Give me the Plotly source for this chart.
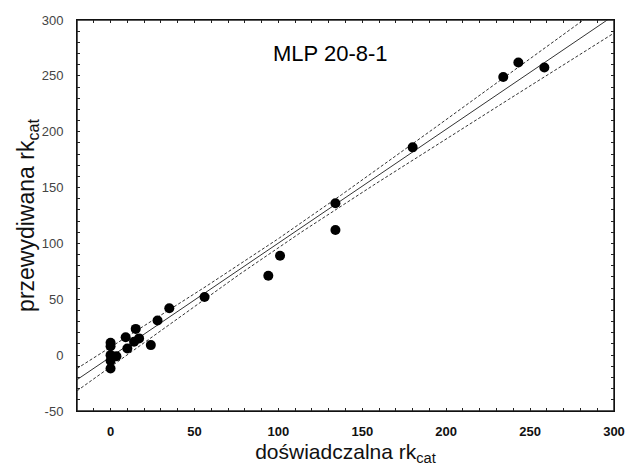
import numpy as np
import plotly.graph_objects as go

x_exp = [0, 0, 0, 0, 0, 3.5, 9, 10, 14, 15, 17, 24, 28, 35, 56,
         94, 101, 134, 134, 180, 234, 243, 258.5]
y_pred = [11, 8, 0, -5, -12, -1, 16, 6, 12, 23.5, 15, 9, 31, 42, 52,
          71, 89, 136, 112, 186, 249, 262, 257.5]

# regression line and confidence band parameters
fit_intercept = -1.6
fit_slope = 1.019
band_w0 = 4.0
band_xm = 100.0
band_k = 0.0764

x_range = [-20, 300]
y_range = [-50, 300]
x_tick_pos = list(range(-20, 301, 10))
x_tick_txt = [str(v) if v % 50 == 0 else "" for v in x_tick_pos]
y_tick_pos = list(range(-50, 301, 10))
y_tick_txt = [str(v) if v % 50 == 0 else "" for v in y_tick_pos]

xl = np.linspace(x_range[0], x_range[1], 200)
yl = fit_intercept + fit_slope * xl
wl = np.sqrt(band_w0 ** 2 + (band_k * (xl - band_xm)) ** 2)

fig = go.Figure()
line_col = "#333333"
# plot frame along the axis range
fig.add_trace(go.Scatter(x=[x_range[0], x_range[1], x_range[1], x_range[0], x_range[0]],
                         y=[y_range[0], y_range[0], y_range[1], y_range[1], y_range[0]],
                         mode="lines", line=dict(color="#222222", width=1.5),
                         cliponaxis=False, showlegend=False, hoverinfo="skip"))
fig.add_trace(go.Scatter(x=xl, y=yl + wl, mode="lines",
                         line=dict(color=line_col, width=1, dash="3px,2px"),
                         showlegend=False, hoverinfo="skip"))
fig.add_trace(go.Scatter(x=xl, y=yl - wl, mode="lines",
                         line=dict(color=line_col, width=1, dash="3px,2px"),
                         showlegend=False, hoverinfo="skip"))
fig.add_trace(go.Scatter(x=xl, y=yl, mode="lines",
                         line=dict(color=line_col, width=1),
                         showlegend=False, hoverinfo="skip"))
fig.add_trace(go.Scatter(x=x_exp, y=y_pred, mode="markers",
                         marker=dict(color="black", size=10),
                         showlegend=False))

font_family = "Liberation Sans, Arial, sans-serif"
axis_common = dict(
    showline=True, linecolor="#111111", linewidth=1, mirror="ticks",
    ticks="inside", ticklen=3, tickcolor="#222222",
    showgrid=False, zeroline=False,
)

fig.update_layout(
    width=637, height=474,
    margin=dict(l=77, r=12, t=20, b=63),
    paper_bgcolor="white", plot_bgcolor="white",
    font=dict(family=font_family, color="black"),
    xaxis=dict(range=x_range, tickmode="array", tickvals=x_tick_pos, ticktext=x_tick_txt,
               ticklabelstandoff=8,
               tickfont=dict(size=13, color="#111111", weight="bold"),
               title=dict(text="doświadczalna rk<sub>cat</sub>",
                          font=dict(size=21, color="#111111"), standoff=6),
               **axis_common),
    yaxis=dict(range=y_range, tickmode="array", tickvals=y_tick_pos, ticktext=y_tick_txt,
               ticklabelstandoff=10,
               tickfont=dict(size=13, color="#444444"),
               title=dict(text="przewydiwana rk<sub>cat</sub>",
                          font=dict(size=23, color="#111111"), standoff=0),
               **axis_common),
    annotations=[dict(text="MLP 20-8-1", xref="paper", yref="paper",
                      x=0.4726, y=0.9156, xanchor="center", yanchor="middle",
                      showarrow=False, font=dict(size=22, color="black"))],
)

fig.write_html("out.html", config={"displayModeBar": False},
               post_script="document.body.style.margin='0';document.body.style.padding='0';")
